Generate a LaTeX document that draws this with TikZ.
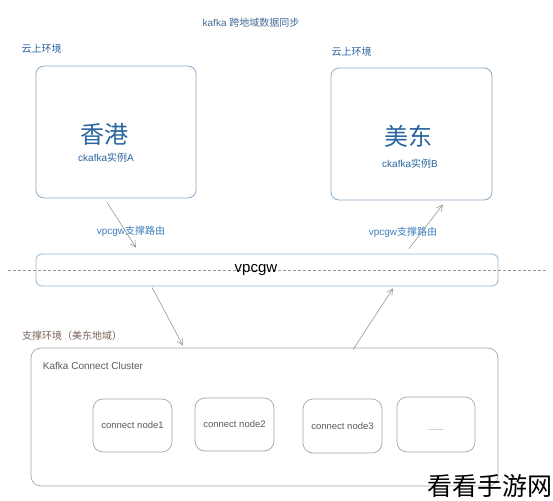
\documentclass[tikz,border=0pt]{standalone}
\usepackage{fontspec}
\setmainfont{Liberation Sans}
\newfontfamily\cjk{Noto Sans CJK SC}
\usetikzlibrary{arrows.meta}
\newcommand{\txtsize}[1]{\fontsize{#1}{#1}\selectfont}
\definecolor{cloudline}{RGB}{140,170,200}
\definecolor{gwline}{RGB}{150,180,205}
\definecolor{clusterline}{RGB}{165,165,165}
\definecolor{bigblue}{RGB}{40,100,160}
\definecolor{labelblue}{RGB}{60,125,190}
\definecolor{envbrown}{RGB}{120,100,90}
\definecolor{textgray}{RGB}{90,90,90}
\definecolor{arrowgray}{RGB}{150,150,150}
\tikzset{
	cloudbox/.style={draw=cloudline,line width=0.8pt,rounded corners=8pt,minimum width=160pt,minimum height=132pt},
	gwbox/.style={draw=gwline,line width=0.8pt,rounded corners=6pt},
	workerbox/.style={draw=clusterline,line width=0.7pt,rounded corners=10pt,minimum width=79pt,minimum height=53pt,text=textgray,font=\txtsize{9.5}},
	route/.style={draw=arrowgray,line width=0.6pt,-{Straight Barb[length=6pt,width=6pt]}},
	small/.style={font=\txtsize{10}}
}
\begin{document}
\begin{tikzpicture}[x=1pt,y=-1pt]
	\useasboundingbox (0,0) rectangle (553,500);

	\node (title) at (251,23)[small,text=bigblue!70!gray]{kafka {\cjk 跨地域数据同步}};

	\node (envA) at (41.5,49)[small,text=bigblue]{\cjk 云上环境};
	\node (envB) at (351.5,52)[small,text=bigblue]{\cjk 云上环境};

	\node (boxA) at (116,132)[cloudbox]{};
	\node (boxB) at (411.5,134)[cloudbox,minimum width=161pt]{};
	\node (hk) at (104,134)[font=\txtsize{24},text=bigblue]{\cjk 香港};
	\node (ckA) at (106,158)[small,text=bigblue]{ckafka{\cjk 实例}A};
	\node (us) at (408,136)[font=\txtsize{24},text=bigblue]{\cjk 美东};
	\node (ckB) at (410,164)[small,text=bigblue]{ckafka{\cjk 实例}B};

	\draw[arrowgray,line width=0.6pt,dash pattern=on 3pt off 2pt] (8,270.5) -- (547,270.5);
	\node (gw) at (267,270)[gwbox,minimum width=462pt,minimum height=32pt]{};
	\node (gwtext) at (256,270)[font=\txtsize{15}]{vpcgw};

	\node (routeA) at (131,231)[small,text=labelblue]{vpcgw{\cjk 支撑路由}};
	\node (routeB) at (403,232)[small,text=labelblue]{vpcgw{\cjk 支撑路由}};

	\node (env) at (72,336)[small,text=envbrown]{\cjk 支撑环境（美东地域）};

	\node (cluster) at (264.5,417)[draw=clusterline,line width=0.7pt,rounded corners=10pt,minimum width=467pt,minimum height=138pt]{};
	\node (clustername) at (93,366)[small,text=textgray]{Kafka Connect Cluster};

	\node (w1) at (132.5,425.5)[workerbox]{connect node1};
	\node (w2) at (234.5,424.5)[workerbox]{connect node2};
	\node (w3) at (342.5,426)[workerbox,minimum height=54pt]{connect node3};
	\node (w4) at (436,424.5)[workerbox,minimum width=78pt,minimum height=55pt,font=\txtsize{7},text depth=0pt]{\raisebox{-6pt}{........}};

	\draw[route] ([xshift=-9pt,yshift=-4pt]boxA.south) -- ([xshift=-131pt,yshift=6pt]gw.north);
	\draw[route] ([xshift=142pt,yshift=5pt]gw.north) -- ([xshift=31.5pt,yshift=-4pt]boxB.south);
	\draw[route] ([xshift=-115pt,yshift=-1pt]gw.south) -- ([xshift=-81.5pt,yshift=2pt]cluster.north);
	\draw[route] ([xshift=88.5pt,yshift=-2pt]cluster.north) -- ([xshift=126pt,yshift=-2pt]gw.south);

	\node (mark) at (490,486)[font=\txtsize{25}]{\cjk 看看手游网};
\end{tikzpicture}
\end{document}
